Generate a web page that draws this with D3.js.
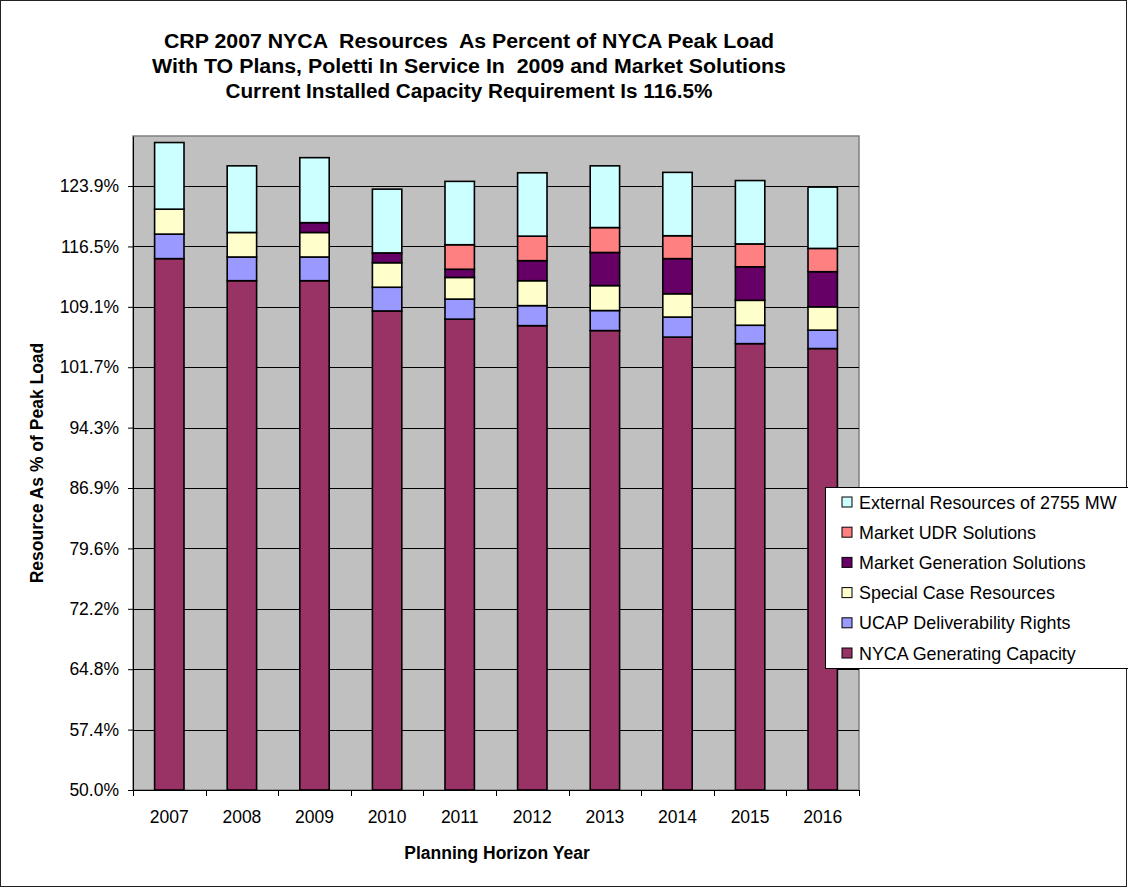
<!DOCTYPE html>
<html>
<head>
<meta charset="utf-8">
<script src="https://cdn.jsdelivr.net/npm/d3@7/dist/d3.min.js"></script>
<style>
  html, body { margin: 0; padding: 0; background: #fff; }
  svg { display: block; font-family: Arial, "Liberation Sans", sans-serif; }
</style>
</head>
<body>
<svg id="chart" width="1128" height="888"></svg>
<script>
// ---- data ----
const years = ["2007","2008","2009","2010","2011","2012","2013","2014","2015","2016"];
const nycaGen   = [115.0, 112.3, 112.3, 108.6, 107.6, 106.8, 106.2, 105.4, 104.6, 104.0];
const ucapRights = [3.0, 2.9, 2.9, 2.9, 2.45, 2.45, 2.45, 2.45, 2.25, 2.25];
const specialCase = [3.05, 3.0, 3.0, 3.0, 2.65, 3.05, 3.05, 2.85, 3.05, 2.85];
const marketGen = [0, 0, 1.2, 1.2, 1.0, 2.45, 4.05, 4.3, 4.1, 4.3];
const marketUDR = [0, 0, 0, 0, 3.0, 3.0, 3.05, 2.8, 2.8, 2.85];
const external  = [8.15, 8.15, 7.95, 7.8, 7.75, 7.75, 7.55, 7.75, 7.75, 7.5];
const seriesNames = ["NYCA Generating Capacity","UCAP Deliverability Rights","Special Case Resources",
                     "Market Generation Solutions","Market UDR Solutions","External Resources of 2755 MW"];
const seriesValues = [nycaGen, ucapRights, specialCase, marketGen, marketUDR, external];
const seriesColors = ["#993366","#9999FF","#FFFFCC","#660066","#FF8080","#CCFFFF"];
const yTickValues = [50, 57.388, 64.776, 72.164, 79.552, 86.94, 94.328, 101.716, 109.104, 116.492, 123.88];
const yTickLabels = ["50.0%","57.4%","64.8%","72.2%","79.6%","86.9%","94.3%","101.7%","109.1%","116.5%","123.9%"];
const yMin = 50, yMax = 130;
const titleLines = ["CRP 2007 NYCA  Resources  As Percent of NYCA Peak Load",
                    "With TO Plans, Poletti In Service In  2009 and Market Solutions",
                    "Current Installed Capacity Requirement Is 116.5%"];

// ---- layout ----
const svg = d3.select("#chart");
const plot = {left: 133, right: 859, top: 136, bottom: 790};

svg.append("rect").attr("x",0.5).attr("y",0.5).attr("width",1126).attr("height",886)
  .attr("fill","#fff").attr("stroke","#222").attr("stroke-width",1);

const x = d3.scaleBand().domain(years).range([plot.left, plot.right]).padding(0);
const y = d3.scaleLinear().domain([yMin, yMax]).range([plot.bottom, plot.top]);
const barW = x.bandwidth() * 0.405;

// plot background
svg.append("rect").attr("x",plot.left).attr("y",plot.top)
  .attr("width",plot.right-plot.left).attr("height",plot.bottom-plot.top)
  .attr("fill","#C0C0C0").attr("stroke","#808080").attr("stroke-width",1.5);

// gridlines
svg.append("g").selectAll("line").data(yTickValues.slice(1)).join("line")
  .attr("x1",plot.left).attr("x2",plot.right)
  .attr("y1",d=>Math.round(y(d))+0.5).attr("y2",d=>Math.round(y(d))+0.5)
  .attr("stroke","#000").attr("stroke-width",1);

// stacked bars
const rows = years.map((yr,i)=>{ const o={year:yr}; seriesNames.forEach((s,k)=>o[s]=seriesValues[k][i]); return o; });
const stack = d3.stack().keys(seriesNames).offset((series, order) => {
  for (let j = 0; j < series[0].length; j++) {
    let base = 0;
    for (let k = 0; k < series.length; k++) { const v = series[order[k]][j]; const d = v[1]-v[0]; v[0]=base; v[1]=base+d; base+=d; }
  }
});
const stacked = stack(rows);
const barsG = svg.append("g");
stacked.forEach((layer,k)=>{
  barsG.append("g").selectAll("rect").data(layer.filter(d=>d[1]-d[0]>0)).join("rect")
    .attr("x",d=>x(d.data.year)+x.bandwidth()/2-barW/2)
    .attr("width",barW)
    .attr("y",d=>y(Math.min(d[1],yMax)))
    .attr("height",d=>y(Math.max(d[0],yMin))-y(Math.min(d[1],yMax)))
    .attr("fill",seriesColors[k]).attr("stroke","#000").attr("stroke-width",1.6);
});

// y axis
const yAxis = d3.axisLeft(y).tickValues(yTickValues).tickFormat((d,i)=>yTickLabels[i])
  .tickSizeInner(5).tickSizeOuter(0).tickPadding(9);
const yg = svg.append("g").attr("transform",`translate(${plot.left},0)`).call(yAxis);
yg.select(".domain").attr("stroke","#000");
yg.selectAll(".tick line").attr("stroke","#000");
yg.selectAll("text").attr("font-size","17.5px").attr("fill","#000").attr("font-family","Arial, 'Liberation Sans', sans-serif");

// x axis
const xg = svg.append("g").attr("transform",`translate(0,${plot.bottom})`);
xg.append("line").attr("x1",plot.left).attr("x2",plot.right).attr("y1",0.5).attr("y2",0.5).attr("stroke","#000");
const bounds = years.map(yv=>x(yv)).concat([plot.right]);
xg.selectAll(".xt").data(bounds).join("line").attr("class","xt")
  .attr("x1",d=>Math.round(d)+0.5).attr("x2",d=>Math.round(d)+0.5).attr("y1",0).attr("y2",6).attr("stroke","#000");
xg.selectAll("text").data(years).join("text")
  .attr("x",d=>x(d)+x.bandwidth()/2).attr("y",32.5)
  .attr("text-anchor","middle").attr("font-size","17.5px").attr("fill","#000").text(d=>d);

// axis titles
svg.append("text").attr("x",497).attr("y",859).attr("text-anchor","middle")
  .attr("font-weight","bold").attr("font-size","17.5px").text("Planning Horizon Year");
svg.append("text").attr("transform","translate(43,463) rotate(-90)").attr("text-anchor","middle")
  .attr("font-weight","bold").attr("font-size","17.5px").text("Resource As % of Peak Load");

// title
const titleW = [610, 634, 487];
titleLines.forEach((t,i)=>{
  svg.append("text").attr("x",469).attr("y",48+25*i).attr("text-anchor","middle")
    .attr("font-weight","bold").attr("font-size","19.5px")
    .attr("textLength",titleW[i]).attr("lengthAdjust","spacingAndGlyphs")
    .style("white-space","pre").text(t);
});

// legend
const lg = svg.append("g");
lg.append("rect").attr("x",825.5).attr("y",487.5).attr("width",320).attr("height",181)
  .attr("fill","#fff").attr("stroke","#000").attr("stroke-width",1);
const legendOrder = [5,4,3,2,1,0];
legendOrder.forEach((k,i)=>{
  const cy = 502 + i*30.2;
  lg.append("rect").attr("x",842).attr("y",cy-5).attr("width",10).attr("height",10)
    .attr("fill",seriesColors[k]).attr("stroke","#000").attr("stroke-width",1);
  lg.append("text").attr("x",859).attr("y",cy+6.5).attr("font-size","17.9px").attr("fill","#000").text(seriesNames[k]);
});
</script>
</body>
</html>
